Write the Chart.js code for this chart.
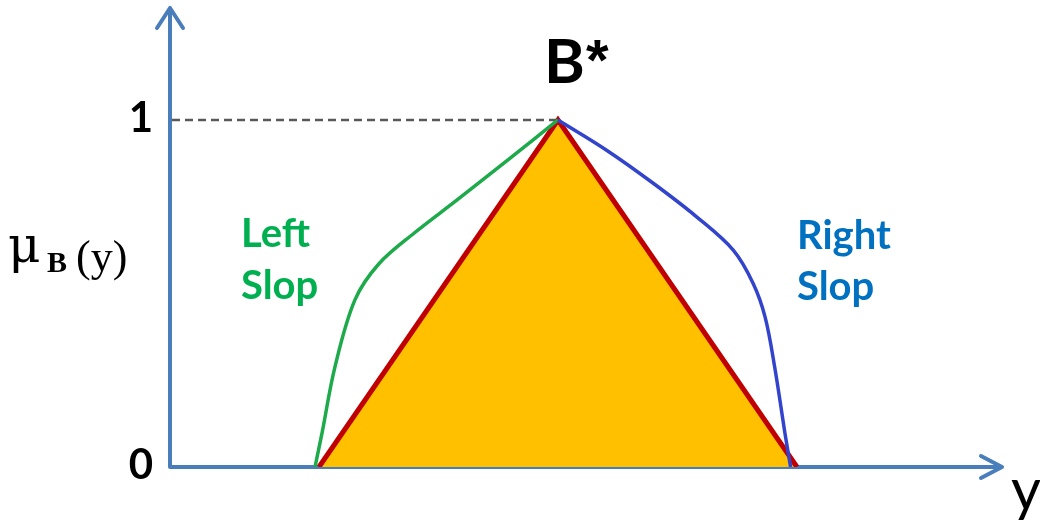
<!DOCTYPE html>
<html>
<head>
<meta charset="utf-8">
<script src="https://cdn.jsdelivr.net/npm/chart.js@4.4.1/dist/chart.umd.min.js"></script>
<style>
  html, body { margin: 0; padding: 0; background: #ffffff; }
  #wrap { width: 1040px; height: 529px; position: relative; }
</style>
</head>
<body>
<div id="wrap"><canvas id="c" width="1040" height="529"></canvas></div>
<script>
// ---- data ----
const triangleX = [2, 5, 8];
const triangleY = [0, 1, 0];

const leftSlopeX = [1.95, 2.04, 2.20, 2.45, 2.75, 3.20, 3.73, 4.40, 5.0];
const leftSlopeY = [0.0, 0.10, 0.288, 0.481, 0.585, 0.675, 0.769, 0.89, 1.0];

const rightSlopeX = [5.0, 5.61, 6.20, 6.74, 7.20, 7.45, 7.60, 7.72, 7.85, 7.92];
const rightSlopeY = [1.0, 0.913, 0.817, 0.721, 0.625, 0.529, 0.432, 0.288, 0.096, 0.0];

const peakX = 5;
const yTickValues = [0, 1];
const yTickLabels = ['0', '1'];

const toPts = (xs, ys) => xs.map((x, i) => ({ x: x, y: ys[i] }));

const AXIS_BLUE = '#4A7EBB';

const decorPlugin = {
  id: 'decor',
  beforeDatasetsDraw(chart) {
    const ctx = chart.ctx;
    const a = chart.chartArea;
    const xs = chart.scales.x, ys = chart.scales.y;
    ctx.save();
    ctx.strokeStyle = '#595959';
    ctx.lineWidth = 2.5;
    ctx.setLineDash([8, 5]);
    ctx.beginPath();
    ctx.moveTo(a.left + 2, ys.getPixelForValue(1));
    ctx.lineTo(xs.getPixelForValue(peakX), ys.getPixelForValue(1));
    ctx.stroke();
    ctx.setLineDash([]);
    ctx.strokeStyle = AXIS_BLUE;
    ctx.lineWidth = 4;
    ctx.lineCap = 'round';
    ctx.lineJoin = 'round';
    const ox = a.left, oy = a.bottom;
    ctx.beginPath();
    ctx.moveTo(ox, oy);
    ctx.lineTo(ox, a.top + 1);
    ctx.moveTo(ox - 13, a.top + 21);
    ctx.lineTo(ox, a.top + 1);
    ctx.lineTo(ox + 13, a.top + 21);
    ctx.moveTo(ox, oy);
    ctx.lineTo(a.right - 1, oy);
    ctx.moveTo(a.right - 22, oy - 11);
    ctx.lineTo(a.right - 1, oy);
    ctx.lineTo(a.right - 22, oy + 11);
    ctx.stroke();
    ctx.restore();
  },
  afterDatasetsDraw(chart) {
    const ctx = chart.ctx;
    const xs = chart.scales.x, ys = chart.scales.y;
    ctx.save();
    ctx.fillStyle = '#000000';
    ctx.font = 'bold 42px Lato';
    ctx.textAlign = 'right';
    ctx.textBaseline = 'middle';
    yTickValues.forEach((v, i) => {
      ctx.fillText(yTickLabels[i], 153, ys.getPixelForValue(v) - 2);
    });
    ctx.textBaseline = 'alphabetic';
    ctx.textAlign = 'left';
    const px = xs.getPixelForValue(peakX);
    ctx.font = 'bold 62px Lato';
    ctx.fillText('B', px - 14, 83);
    ctx.font = 'bold 58px "Liberation Sans"';
    ctx.fillText('*', px + 28, 80);
    ctx.fillStyle = '#00B050';
    ctx.font = 'bold 40px Lato';
    ctx.fillText('Left', 241, 247);
    ctx.fillText('Slop', 241, 299);
    ctx.fillStyle = '#0070C0';
    ctx.fillText('Right', 797, 249);
    ctx.fillText('Slop', 797, 300);
    ctx.fillStyle = '#000000';
    ctx.font = '50px "DejaVu Serif"';
    ctx.fillText('\u03BC', 8, 262);
    ctx.font = 'bold 30px "Liberation Serif"';
    ctx.fillText('B', 47, 272);
    ctx.font = '44px "Liberation Serif"';
    ctx.fillText('(y)', 76, 271);
    ctx.font = '58px Lato';
    ctx.fillText('y', 1011, 510);
    ctx.restore();
  }
};

new Chart(document.getElementById('c'), {
  type: 'line',
  data: {
    datasets: [
      {
        label: 'Triangle',
        data: toPts(triangleX, triangleY),
        borderColor: '#C00000',
        backgroundColor: '#FFC000',
        borderWidth: 5,
        fill: true,
        tension: 0,
        pointRadius: 0,
        borderJoinStyle: 'miter',
        order: 3
      },
      {
        label: 'Left Slop',
        data: toPts(leftSlopeX, leftSlopeY),
        borderColor: '#1DAA4A',
        borderWidth: 3.5,
        fill: false,
        tension: 0.35,
        pointRadius: 0,
        order: 2
      },
      {
        label: 'Right Slop',
        data: toPts(rightSlopeX, rightSlopeY),
        borderColor: '#3344CC',
        borderWidth: 3.5,
        fill: false,
        tension: 0.35,
        pointRadius: 0,
        order: 1
      }
    ]
  },
  options: {
    responsive: false,
    animation: false,
    devicePixelRatio: 1,
    layout: { padding: { left: 170, right: 37, top: 7, bottom: 62 } },
    plugins: { legend: { display: false }, tooltip: { enabled: false } },
    scales: {
      x: { type: 'linear', min: 0.13, max: 10.586, display: false },
      y: { type: 'linear', min: 0, max: 1.3256, display: false }
    }
  },
  plugins: [decorPlugin]
});
</script>
</body>
</html>
